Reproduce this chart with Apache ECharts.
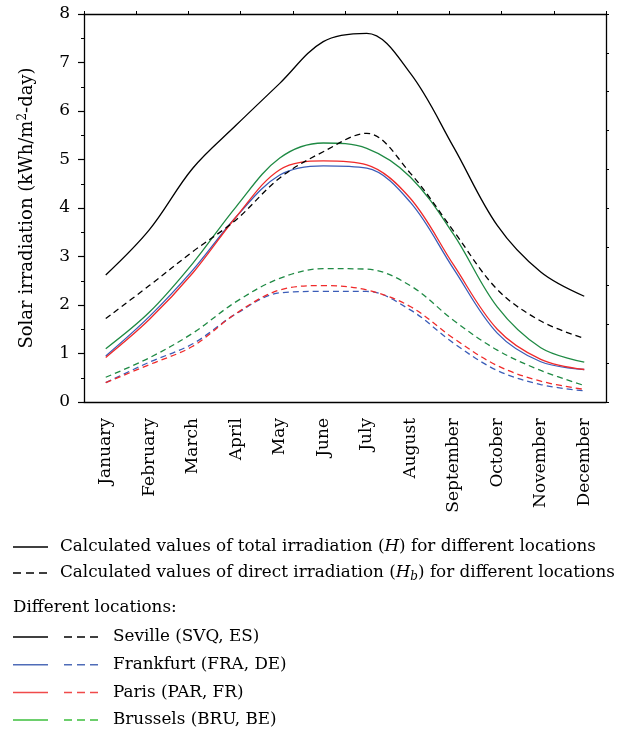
<!DOCTYPE html>
<html>
<head>
<meta charset="utf-8">
<script src="https://cdn.jsdelivr.net/npm/echarts@6/dist/echarts.min.js"></script>
<style>
    html, body {margin: 0; padding: 0; background: #fff;}
    #main {width: 629px; height: 738px;}
</style>
</head>
<body>
<div id="main"></div>
<script>
var months = ['January', 'February', 'March', 'April', 'May', 'June', 'July', 'August', 'September', 'October', 'November', 'December'];
var yTicks = [0, 1, 2, 3, 4, 5, 6, 7, 8];

/* total irradiation H, kWh/m2-day */
var sevilleTotal = [2.62, 3.55, 4.82, 5.71, 6.57, 7.43, 7.60, 6.78, 5.25, 3.64, 2.68, 2.18];
var frankfurtTotal = [0.95, 1.76, 2.72, 3.82, 4.68, 4.87, 4.82, 4.12, 2.74, 1.42, 0.83, 0.67];
var parisTotal = [0.92, 1.70, 2.66, 3.82, 4.79, 4.97, 4.89, 4.20, 2.82, 1.50, 0.88, 0.67];
var brusselsTotal = [1.10, 1.85, 2.86, 4.03, 5.03, 5.34, 5.23, 4.64, 3.45, 1.96, 1.12, 0.82];

/* direct irradiation Hb */
var sevilleDirect = [1.72, 2.40, 3.10, 3.76, 4.62, 5.16, 5.54, 4.72, 3.52, 2.32, 1.67, 1.31];
var frankfurtDirect = [0.40, 0.82, 1.20, 1.82, 2.25, 2.28, 2.28, 1.90, 1.21, 0.65, 0.36, 0.23];
var parisDirect = [0.40, 0.77, 1.15, 1.83, 2.31, 2.40, 2.31, 1.97, 1.31, 0.75, 0.43, 0.26];
var brusselsDirect = [0.51, 0.91, 1.42, 2.07, 2.55, 2.75, 2.74, 2.40, 1.68, 1.07, 0.65, 0.34];

var locations = ['Seville (SVQ, ES)', 'Frankfurt (FRA, DE)', 'Paris (PAR, FR)', 'Brussels (BRU, BE)'];
var plotColors = ['#000000', '#3b5db8', '#f02a2a', '#1f8a44'];
var legendColors = ['#000000', '#4f6cb8', '#f04a4a', '#3cbf3c'];

var serif = '"DejaVu Serif", "Liberation Serif", serif';

function makeLine(name, data, color, dashed) {
    return {
        name: name,
        type: 'line',
        smooth: 0.35,
        symbol: 'none',
        xAxisIndex: 0,
        yAxisIndex: 0,
        lineStyle: {
            color: color,
            width: 1.3,
            type: dashed ? [6, 4] : 'solid'
        },
        data: data
    };
}

var series = [
    makeLine('Seville H', sevilleTotal, plotColors[0], false),
    makeLine('Frankfurt H', frankfurtTotal, plotColors[1], false),
    makeLine('Paris H', parisTotal, plotColors[2], false),
    makeLine('Brussels H', brusselsTotal, plotColors[3], false),
    makeLine('Seville Hb', sevilleDirect, plotColors[0], true),
    makeLine('Frankfurt Hb', frankfurtDirect, plotColors[1], true),
    makeLine('Paris Hb', parisDirect, plotColors[2], true),
    makeLine('Brussels Hb', brusselsDirect, plotColors[3], true)
];

/* legend under the chart, drawn as graphics */
var graphics = [];
function legendLine(x1, x2, y, color, dashed) {
    graphics.push({
        type: 'line',
        shape: {x1: x1, y1: y, x2: x2, y2: y},
        style: {stroke: color, lineWidth: 1.5, lineDash: dashed ? [8, 5] : null}
    });
}
function legendText(x, y, text, rich) {
    graphics.push({
        type: 'text',
        x: x,
        y: y,
        style: {
            text: text,
            font: '16.8px ' + serif,
            fill: '#000',
            verticalAlign: 'middle',
            rich: rich || {}
        }
    });
}
var italic = {
    i: {fontStyle: 'italic', fontSize: 16.8, fontFamily: serif},
    sub: {fontStyle: 'italic', fontSize: 12, fontFamily: serif, padding: [8, 0, 0, 0]}
};
legendLine(13, 48, 547, '#000', false);
legendText(60, 547, 'Calculated values of total irradiation ({i|H}) for different locations', italic);
legendLine(13, 48, 573, '#000', true);
legendText(60, 573, 'Calculated values of direct irradiation ({i|H}{sub|b}) for different locations', italic);
legendText(13, 608, 'Different locations:');
for (var k = 0; k < locations.length; k++) {
    var ly = 637 + k * 27.7;
    legendLine(13, 48, ly, legendColors[k], false);
    legendLine(64, 100, ly, legendColors[k], true);
    legendText(113, ly, locations[k]);
}

var option = {
    backgroundColor: '#fff',
    animation: false,
    grid: {left: 84, right: 23, top: 14, bottom: 336},
    xAxis: [{
        type: 'category',
        data: months,
        boundaryGap: true,
        position: 'bottom',
        axisLine: {lineStyle: {color: '#000', width: 1.3}},
        axisTick: {alignWithLabel: true, length: 6, lineStyle: {color: '#000', width: 1.2}},
        axisLabel: {
            rotate: 90,
            margin: 16,
            interval: 0,
            color: '#000',
            fontSize: 17,
            fontFamily: serif
        },
        splitLine: {show: false}
    }, {
        type: 'category',
        data: months,
        boundaryGap: true,
        position: 'bottom',
        axisLine: {show: false},
        axisTick: {length: 3, lineStyle: {color: '#000', width: 1.2}},
        axisLabel: {show: false},
        splitLine: {show: false}
    }, {
        type: 'value',
        position: 'top',
        min: 0,
        max: 10,
        interval: 1,
        axisLine: {show: true, lineStyle: {color: '#000', width: 1.3}},
        axisTick: {show: true, length: 3, lineStyle: {color: '#000'}},
        axisLabel: {show: false},
        splitLine: {show: false}
    }],
    yAxis: [{
        type: 'value',
        min: yTicks[0],
        max: yTicks[yTicks.length - 1],
        interval: 1,
        position: 'left',
        name: 'Solar irradiation (kWh/m{sup|2}-day)',
        nameLocation: 'middle',
        nameRotate: 90,
        nameGap: 46,
        nameTextStyle: {
            color: '#000',
            fontSize: 18,
            fontFamily: serif,
            rich: {
                sup: {fontSize: 12, fontFamily: serif, color: '#000', padding: [0, 0, 9, 0]}
            }
        },
        axisLine: {show: true, lineStyle: {color: '#000', width: 1.3}},
        axisTick: {show: true, length: 6, lineStyle: {color: '#000', width: 1.2}},
        minorTick: {show: true, splitNumber: 2, length: 3, lineStyle: {color: '#000'}},
        axisLabel: {
            margin: 14,
            color: '#000',
            fontSize: 17,
            fontFamily: serif
        },
        splitLine: {show: false}
    }, {
        type: 'value',
        position: 'right',
        min: 0,
        max: 10,
        interval: 1,
        axisLine: {show: true, lineStyle: {color: '#000', width: 1.3}},
        axisTick: {show: true, length: 3, lineStyle: {color: '#000'}},
        axisLabel: {show: false},
        splitLine: {show: false}
    }],
    series: series,
    graphic: graphics
};

var myChart = echarts.init(document.getElementById('main'));
myChart.setOption(option);
</script>
</body>
</html>
